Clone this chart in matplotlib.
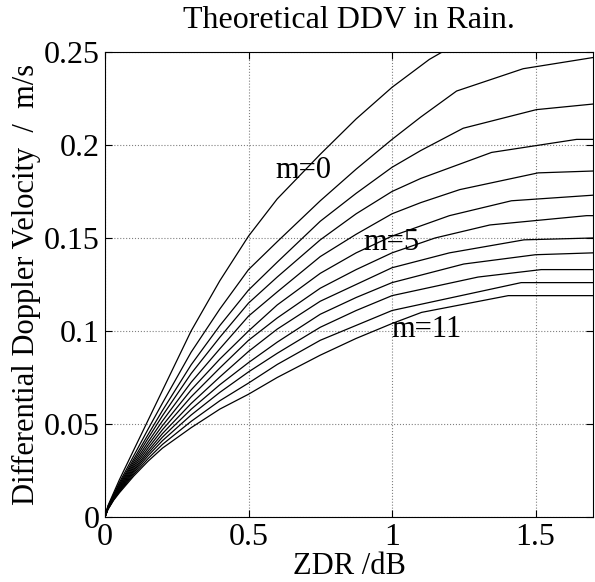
import matplotlib
matplotlib.use("Agg")
import matplotlib.pyplot as plt

plt.rcParams["font.family"] = ["Liberation Serif", "DejaVu Serif"]

# ZDR (dB) / DDV (m/s), one curve per m = 0..11
zdr_left = [0, 0.01, 0.03, 0.05, 0.1, 0.15, 0.2, 0.3, 0.4, 0.5, 0.6, 0.75, 0.875, 1.0]
ddv_left = [
    [0, 0.0060, 0.0130, 0.0200, 0.0360, 0.0520, 0.0680, 0.1000, 0.1270, 0.151, 0.171, 0.195, 0.214, 0.231],
    [0, 0.0056, 0.0121, 0.0185, 0.0329, 0.0472, 0.0612, 0.0886, 0.1118, 0.133, 0.148, 0.170, 0.187, 0.203],
    [0, 0.0053, 0.0116, 0.0176, 0.0311, 0.0443, 0.0572, 0.0818, 0.1029, 0.122, 0.137, 0.159, 0.174, 0.188],
    [0, 0.0051, 0.0112, 0.0169, 0.0298, 0.0423, 0.0544, 0.0771, 0.0966, 0.115, 0.129, 0.149, 0.163, 0.175],
    [0, 0.0049, 0.0109, 0.0163, 0.0286, 0.0403, 0.0516, 0.0724, 0.0904, 0.108, 0.121, 0.140, 0.152, 0.163],
    [0, 0.0048, 0.0106, 0.0157, 0.0275, 0.0386, 0.0491, 0.0683, 0.0849, 0.100, 0.114, 0.131, 0.142, 0.151],
    [0, 0.0046, 0.0103, 0.0152, 0.0265, 0.0370, 0.0469, 0.0646, 0.0801, 0.095, 0.107, 0.123, 0.133, 0.142],
    [0, 0.0045, 0.0100, 0.0148, 0.0255, 0.0355, 0.0448, 0.0610, 0.0753, 0.089, 0.101, 0.116, 0.125, 0.134],
    [0, 0.0044, 0.0098, 0.0143, 0.0247, 0.0342, 0.0429, 0.0579, 0.0711, 0.083, 0.094, 0.109, 0.118, 0.126],
    [0, 0.0043, 0.0095, 0.0139, 0.0238, 0.0329, 0.0410, 0.0548, 0.0670, 0.078, 0.088, 0.102, 0.111, 0.119],
    [0, 0.0041, 0.0093, 0.0135, 0.0229, 0.0314, 0.0390, 0.0514, 0.0625, 0.072, 0.082, 0.095, 0.103, 0.111],
    [0, 0.0040, 0.0090, 0.0130, 0.0220, 0.0300, 0.0370, 0.0480, 0.0580, 0.066, 0.075, 0.087, 0.096, 0.104],
]

# kinked tails beyond ZDR = 1 dB
zdr_right = [
    [1.13, 1.175],
    [1.1, 1.225, 1.457, 1.7],
    [1.1, 1.248, 1.503, 1.7],
    [1.1, 1.347, 1.643, 1.7],
    [1.1, 1.236, 1.509, 1.7],
    [1.2, 1.416, 1.7],
    [1.15, 1.341, 1.678, 1.7],
    [1.2, 1.46, 1.7],
    [1.25, 1.5, 1.7],
    [1.3, 1.52, 1.7],
    [1.3, 1.45, 1.7],
    [1.103, 1.405, 1.7],
]
ddv_right = [
    [0.246, 0.25],
    [0.215, 0.229, 0.241, 0.247],
    [0.197, 0.209, 0.219, 0.222],
    [0.182, 0.196, 0.203, 0.203],
    [0.169, 0.176, 0.185, 0.186],
    [0.162, 0.170, 0.173],
    [0.150, 0.157, 0.162, 0.162],
    [0.142, 0.149, 0.150],
    [0.136, 0.141, 0.142],
    [0.129, 0.133, 0.133],
    [0.121, 0.126, 0.126],
    [0.110, 0.119, 0.119],
]

fig = plt.figure(figsize=(5.95, 5.82), dpi=100)
ax = fig.add_axes([0.1765, 0.1117, 0.82, 0.799])

for i in range(len(ddv_left)):
    x = zdr_left + zdr_right[i]
    y = ddv_left[i] + ddv_right[i]
    ax.plot(x, y, color="black", linewidth=0.9)

ax.text(0.592, 0.1823, "m=0", fontsize=22)
ax.text(0.90, 0.1435, "m=5", fontsize=22)
ax.text(0.9985, 0.0969, "m=11", fontsize=22)

ax.set_xlim(0, 1.7)
ax.set_ylim(0, 0.25)
ax.set_xticks([0, 0.5, 1, 1.5])
ax.set_xticklabels(["0", "0.5", "1", "1.5"])
ax.set_yticks([0, 0.05, 0.1, 0.15, 0.2, 0.25])
ax.set_yticklabels(["0", "0.05", "0.1", "0.15", "0.2", "0.25"])
ax.tick_params(direction="in", top=True, right=True, labelsize=23, length=5, pad=4)
ax.grid(True, linestyle=":", color="gray", linewidth=0.8)

ax.set_xlabel("ZDR /dB", fontsize=22, labelpad=0)
ax.set_ylabel("Differential Doppler Velocity  /  m/s", fontsize=22, labelpad=2)
ax.set_title("Theoretical DDV in Rain.", fontsize=23, pad=17)

fig.savefig("out.png", dpi=100)
